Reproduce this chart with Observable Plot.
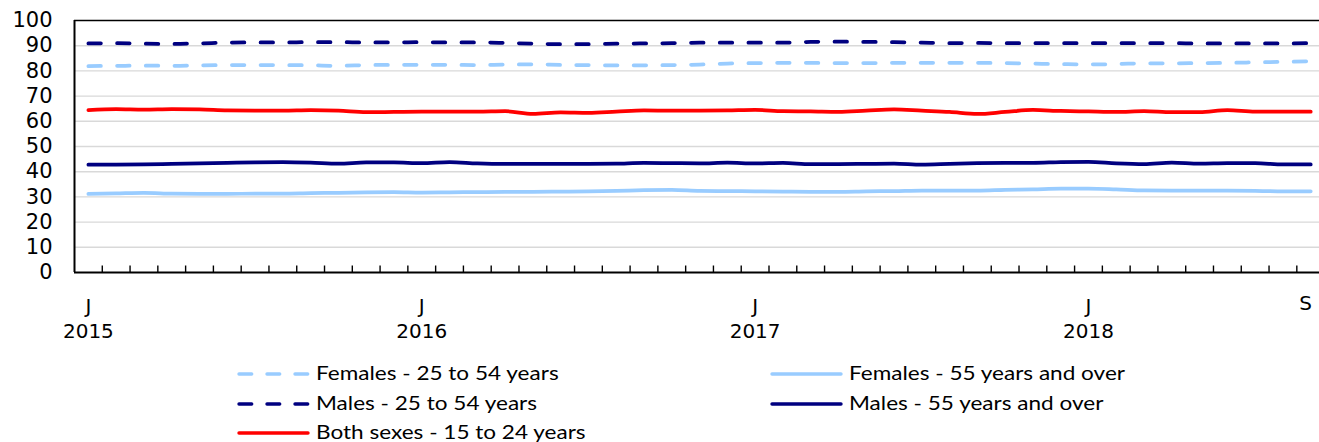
<!DOCTYPE html>
<html><head><meta charset="utf-8">
<script src="https://cdn.jsdelivr.net/npm/d3@7"></script>
<script src="https://cdn.jsdelivr.net/npm/@observablehq/plot@0.6"></script>
<style>
html,body{margin:0;padding:0;background:#fff;}
#chart svg{display:block;}
</style></head><body><div id="chart"></div>
<script>
// Monthly categories, January 2015 to September 2018
const months = d3.utcMonth.range(new Date(Date.UTC(2015,0,1)), new Date(Date.UTC(2018,9,1)));

const femalesCore = [81.9,82.0,82.1,82.0,82.2,82.3,82.3,82.3,82.2,82.0,82.3,82.4,82.4,82.4,82.3,82.5,82.6,82.4,82.3,82.2,82.2,82.3,82.5,82.9,83.1,83.2,83.2,83.1,83.1,83.2,83.2,83.2,83.2,83.1,82.9,82.7,82.6,82.7,83.0,83.0,83.1,83.2,83.4,83.6,83.8];
const malesCore = [90.9,91.0,90.8,90.7,90.9,91.2,91.3,91.3,91.4,91.4,91.3,91.3,91.4,91.3,91.3,91.1,90.8,90.6,90.6,90.8,90.9,91.0,91.2,91.2,91.2,91.2,91.5,91.6,91.5,91.4,91.2,91.0,91.1,91.0,91.0,91.0,91.0,91.0,91.0,91.0,90.9,90.9,90.9,90.9,91.0];
const youth = [64.4,64.8,64.6,64.8,64.7,64.3,64.2,64.2,64.4,64.2,63.6,63.7,63.8,63.8,63.8,64.0,62.9,63.5,63.3,63.8,64.3,64.2,64.2,64.3,64.5,64.0,63.9,63.7,64.2,64.7,64.2,63.7,62.9,63.7,64.5,64.1,63.9,63.7,64.0,63.6,63.6,64.4,63.8,63.8,63.8];
const females55 = [31.2,31.4,31.6,31.3,31.2,31.2,31.3,31.3,31.5,31.6,31.8,31.9,31.7,31.8,31.9,32.0,32.0,32.1,32.2,32.4,32.7,32.8,32.4,32.3,32.2,32.1,32.0,32.0,32.2,32.3,32.5,32.5,32.5,32.8,33.0,33.3,33.3,33.0,32.6,32.5,32.5,32.5,32.4,32.2,32.2];
const males55 = [42.8,42.8,42.9,43.1,43.3,43.5,43.7,43.8,43.6,43.2,43.7,43.7,43.4,43.8,43.3,43.1,43.1,43.1,43.1,43.2,43.5,43.4,43.3,43.6,43.3,43.5,43.0,43.0,43.1,43.2,42.8,43.1,43.4,43.5,43.5,43.8,43.9,43.3,43.0,43.6,43.2,43.4,43.4,42.9,42.9];

const seriesNames = ["Females - 25 to 54 years","Females - 55 years and over","Males - 25 to 54 years","Males - 55 years and over","Both sexes - 15 to 24 years"];
const seriesValues = [femalesCore, females55, malesCore, males55, youth];

const yTicks = [0,10,20,30,40,50,60,70,80,90,100];
const xTickMonths = [0,12,24,36,44];
const xTickLabels = ["J\n2015","J\n2016","J\n2017","J\n2018","S"];

// styles (kept separate from data)
const seriesStyle = [
  {color:"#99CCFF", dashed:true},
  {color:"#99CCFF", dashed:false},
  {color:"#000080", dashed:true},
  {color:"#000080", dashed:false},
  {color:"#FF0000", dashed:false}
];

const rows = seriesNames.flatMap((name, s) => seriesValues[s].map((v, i) => ({series: name, s, i, month: months[i], value: v})));
const boundaries = d3.range(1, months.length).map(k => k - 0.5);
const xLabelRows = xTickMonths.map((m, j) => ({i: m, label: xTickLabels[j]}));

const drawOrder = [1, 3, 4, 0, 2];
const lineMarks = drawOrder.map(s => Plot.line(rows.filter(d => d.s === s), {
  x: "i", y: "value",
  stroke: seriesStyle[s].color,
  strokeWidth: 3.75,
  strokeLinecap: "round",
  strokeLinejoin: "round",
  strokeDasharray: seriesStyle[s].dashed ? "12.5,16.2" : null,
  curve: "monotone-x"
}));

const chart = Plot.plot({
  width: 1319, height: 345,
  marginLeft: 74, marginRight: 0, marginTop: 20, marginBottom: 73,
  x: {domain: [-0.5, months.length - 0.5], range: [74, 74 + 27.78 * months.length], axis: null},
  y: {domain: [0, 100], axis: null},
  style: {fontFamily: "'DejaVu Sans', Verdana, sans-serif", color: "#000", background: "#fff", overflow: "hidden"},
  marks: [
    Plot.ruleY(yTicks.filter(t => t > 0 && t < 100), {stroke: "#D9D9D9", strokeWidth: 1.4}),
    Plot.ruleY([100], {stroke: "#000", strokeWidth: 1.3}),
    ...lineMarks,
    Plot.ruleY([0], {stroke: "#000", strokeWidth: 2}),
    Plot.ruleX([-0.5], {y1: 0, y2: 100, stroke: "#000", strokeWidth: 2}),
    Plot.ruleX(boundaries, {y1: 0, y2: 0, insetTop: -6.5, stroke: "#000", strokeWidth: 1.4}),
    Plot.axisY(yTicks, {tickSize: 0, tickPadding: 22, fontSize: 21, label: null, fill: "#000"}),
    Plot.text(xLabelRows.filter(d => d.label !== "S"), {x: "i", text: "label", frameAnchor: "bottom", lineAnchor: "top", dy: 23, fontSize: 20, lineHeight: 1.25, fill: "#000"}),
    Plot.text(xLabelRows.filter(d => d.label === "S"), {x: "i", text: "label", frameAnchor: "bottom", lineAnchor: "top", dy: 23, dx: -5, fontSize: 20, fill: "#000"})
  ]
});
document.getElementById("chart").appendChild(chart);

// Legend below the chart
const legend = d3.select("#chart").append("svg")
  .attr("width", 1319).attr("height", 97)
  .style("display", "block");
const legendCols = [237, 770];
const legendRows = [29, 59, 88];
seriesNames.forEach((name, s) => {
  const col = s % 2, row = Math.floor(s / 2);
  const g = legend.append("g").attr("transform", `translate(${legendCols[col]},${legendRows[row]})`);
  const st = seriesStyle[s];
  g.append("line")
    .attr("x1", 2).attr("x2", 71).attr("y1", 0).attr("y2", 0)
    .attr("stroke", st.color).attr("stroke-width", 3.4)
    .attr("stroke-linecap", "round")
    .attr("stroke-dasharray", st.dashed ? "12.7,15.3" : null);
  g.append("text")
    .attr("transform", "translate(79,6.3) scale(1.22,1)")
    .attr("font-family", "Lato, 'Open Sans', sans-serif")
    .attr("font-size", 18.5)
    .attr("fill", "#000")
    .text(name);
});
</script>
</body></html>
